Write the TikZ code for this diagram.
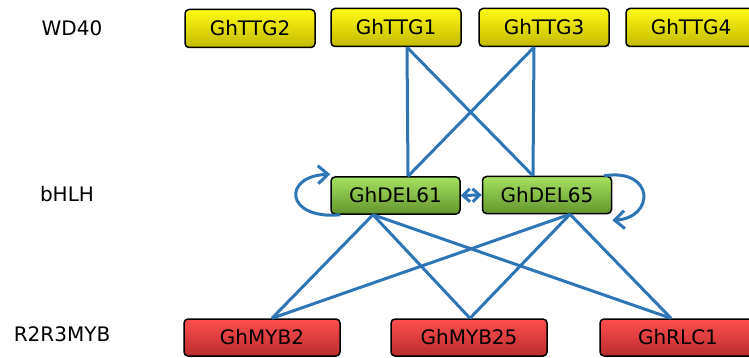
\documentclass[tikz,border=0pt]{standalone}
\usepackage{fontspec}
\setmainfont{DejaVu Sans}
\usetikzlibrary{arrows.meta,calc}

\definecolor{linkblue}{RGB}{46,117,182}
\definecolor{yelTop}{RGB}{255,250,20}
\definecolor{yelBot}{RGB}{195,185,0}
\definecolor{grnTop}{RGB}{165,225,95}
\definecolor{grnBot}{RGB}{100,150,45}
\definecolor{redTop}{RGB}{255,78,78}
\definecolor{redBot}{RGB}{185,45,45}

\tikzset{
  gene/.style={draw=black, line width=1.5pt, rounded corners=4pt,
    minimum height=38pt, inner sep=0pt,
    font=\fontsize{20}{21}\selectfont, text=black},
  wdbox/.style={gene, minimum width=130pt, top color=yelTop, bottom color=yelBot},
  hlhbox/.style={gene, minimum width=129pt, minimum height=37pt, top color=grnTop, bottom color=grnBot},
  mybbox/.style={gene, minimum width=156pt, minimum height=37pt, top color=redTop, bottom color=redBot},
  family/.style={font=\fontsize{20}{21}\selectfont, text=black},
  link/.style={draw=linkblue, line width=3pt},
  barbtip/.tip={Straight Barb[length=10pt,width=18pt]},
  shorttip/.tip={Straight Barb[length=7pt,width=13pt]},
  barb/.style={-barbtip}
}

\begin{document}
\begin{tikzpicture}[x=1pt,y=-1pt]
\useasboundingbox (0,0) rectangle (749,358);

% family labels
\node[family] (lwd)  at (72,28)  {WD40};
\node[family] (lbh)  at (67,194) {bHLH};
\node[family] (lmyb) at (62,334) {R2R3MYB};

% WD40 proteins
\node[wdbox] (ttg2) at (250,28.5) {GhTTG2};
\node[wdbox] (ttg1) at (396,27.5) {GhTTG1};
\node[wdbox] (ttg3) at (544,27.5) {GhTTG3};
\node[wdbox] (ttg4) at (691,27.5) {GhTTG4};

% bHLH proteins
\node[hlhbox] (del61) at (395.5,195.5) {GhDEL61};
\node[hlhbox] (del65) at (547,195) {GhDEL65};

% MYB proteins
\node[mybbox] (myb2)  at (262,337.5) {GhMYB2};
\node[mybbox] (myb25) at (469,337.5) {GhMYB25};
\node[mybbox] (rlc1)  at (678,337.5) {GhRLC1};

% WD40 -- bHLH interactions
\draw[link] ([xshift=11pt]ttg1.south) -- ([xshift=12.5pt]del61.north);
\draw[link] ([xshift=11pt]ttg1.south) -- ([xshift=-14pt]del65.north);
\draw[link] ([xshift=-10pt]ttg3.south) -- ([xshift=12.5pt]del61.north);
\draw[link] ([xshift=-10pt]ttg3.south) -- ([xshift=-14pt]del65.north);

% bHLH -- MYB interactions
\draw[link] ([xshift=-22.5pt]del61.south) -- ([xshift=10pt]myb2.north);
\draw[link] ([xshift=-22.5pt]del61.south) -- ([xshift=1pt]myb25.north);
\draw[link] ([xshift=-22.5pt]del61.south) -- ([xshift=-7pt]rlc1.north);
\draw[link] ([xshift=23pt]del65.south) -- ([xshift=10pt]myb2.north);
\draw[link] ([xshift=23pt]del65.south) -- ([xshift=1pt]myb25.north);
\draw[link] ([xshift=23pt]del65.south) -- ([xshift=-7pt]rlc1.north);

% bHLH dimerisation and self-interaction
\draw[link, shorttip-shorttip] (del61.east) -- (del65.west);
\draw[link, barb] ([xshift=10pt]del61.south west)
  .. controls (285,220) and (282,176) .. ([yshift=2pt]del61.north west);
\draw[link, barb] ([xshift=-8pt]del65.north east)
  .. controls (655,168) and (655,218) .. ([yshift=-6pt]del65.south east);
\end{tikzpicture}
\end{document}
